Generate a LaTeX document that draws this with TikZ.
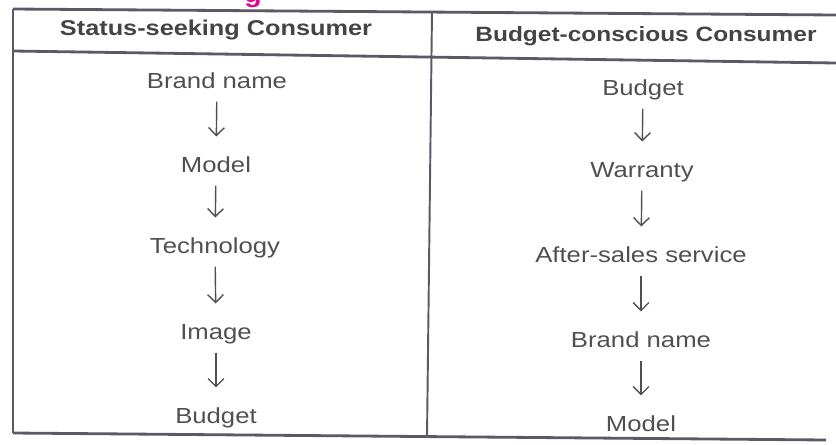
\documentclass[tikz,border=0pt]{standalone}
\usepackage{fontspec}
\setmainfont{Liberation Sans}[FakeStretch=1.18]
\usetikzlibrary{arrows.meta}

\definecolor{ink}{HTML}{505050}
\definecolor{rulegray}{HTML}{5E5866}
\definecolor{titlemag}{HTML}{E2068C}

\begin{document}
\begin{tikzpicture}[
  x=0.02cm, y=-0.02cm,
  head/.style={font=\fontsize{12.2}{14}\selectfont\bfseries, text=ink!85!black, inner sep=0pt, text height=0.72em, text depth=0pt},
  item/.style={font=\fontsize{12.4}{14}\selectfont, text=ink, inner sep=0pt, text height=0.72em, text depth=0pt},
  flow/.style={draw=ink, line width=0.8pt, -{Straight Barb[length=4.5pt,width=9pt]}, shorten <=7.4pt, shorten >=13pt},
  frame/.style={draw=rulegray, line width=1.6pt},
  divider/.style={draw=rulegray, line width=1.1pt}
]
\useasboundingbox (0,0) rectangle (836,444);

% tail of the heading above the table
\node[font=\fontsize{14}{16}\selectfont\bfseries, text=titlemag, inner sep=0pt, anchor=base] (ttl) at (253,2) {g};

% table rules
\draw[frame] (13,9) -- (836,15);
\draw[frame] (13,51) -- (836,63);
\draw[frame] (13,433) -- (826,440);
\draw[divider] (13,9) -- (13,433);
\draw[divider] (432,12) -- (427,437);

% column heads
\node[head] (hl) at (216,29) {Status-seeking Consumer};
\node[head, font=\fontsize{11.8}{14}\selectfont\bfseries] (hr) at (646,35) {Budget-conscious Consumer};

% status-seeking order
\node[item] (l1) at (217,82) {Brand name};
\node[item] (l2) at (216,166) {Model};
\node[item] (l3) at (215,247) {Technology};
\node[item] (l4) at (216,333) {Image};
\node[item] (l5) at (216,417) {Budget};

% budget-conscious order
\node[item] (r1) at (643,89) {Budget};
\node[item] (r2) at (642,171) {Warranty};
\node[item] (r3) at (641,256) {After-sales service};
\node[item] (r4) at (641,341) {Brand name};
\node[item] (r5) at (641,425) {Model};

\foreach \a/\b in {l1/l2,l2/l3,l3/l4,l4/l5,r1/r2,r2/r3,r3/r4,r4/r5}
  \draw[flow] (\a) -- (\b);

\end{tikzpicture}
\end{document}
